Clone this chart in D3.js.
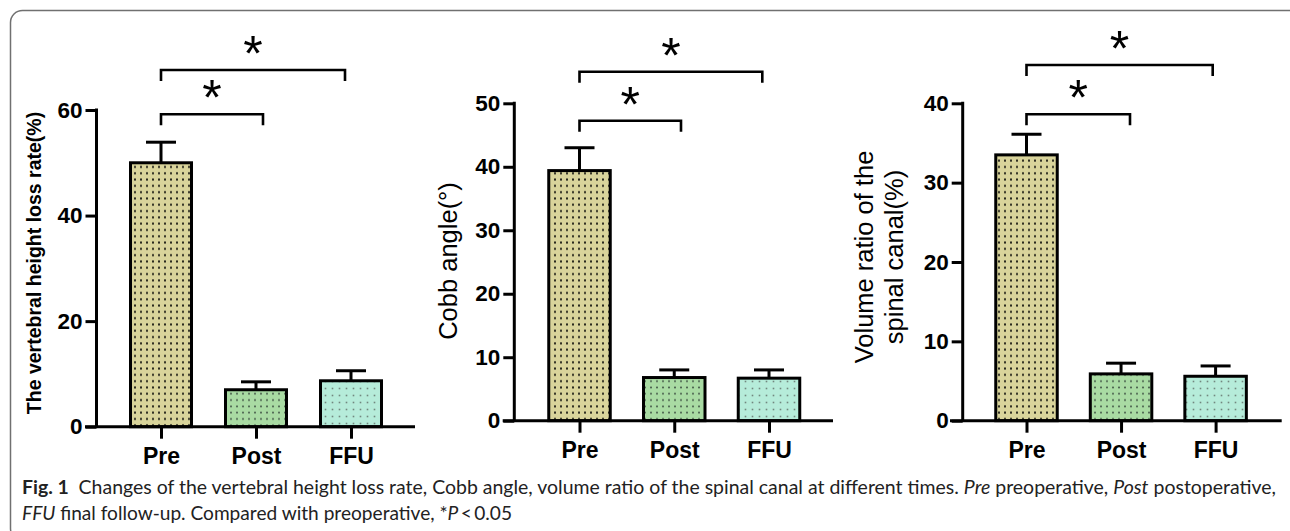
<!DOCTYPE html>
<html lang="en">
<head>
<meta charset="UTF-8">
<title>Fig. 1</title>
<script src="https://d3js.org/d3.v7.min.js"></script>
<style>
  body { margin: 0; background: #fff; }
  svg { display: block; }
</style>
</head>
<body>
<div id="my_dataviz"></div>
<script>

// ---- data ----
var categories = ["Pre", "Post", "FFU"];

var heightLossMean = [50.0, 7.0, 8.7];
var heightLossErr  = [3.9, 1.5, 1.9];
var heightTicks    = [0, 20, 40, 60];

var cobbMean = [39.4, 6.8, 6.7];
var cobbErr  = [3.6, 1.2, 1.3];
var cobbTicks = [0, 10, 20, 30, 40, 50];

var volumeMean = [33.5, 5.9, 5.6];
var volumeErr  = [2.6, 1.35, 1.3];
var volumeTicks = [0, 10, 20, 30, 40];

// significance brackets: Pre vs Post, Pre vs FFU
var comparisons = [["Pre", "Post"], ["Pre", "FFU"]];
var sigLabel = "*";

var fills = {Pre: "#d9d49b", Post: "#a9dba3", FFU: "#b6ecda"};

var svg = d3.select("#my_dataviz")
  .append("svg")
  .attr("width", 1290)
  .attr("height", 531);

svg.append("rect").attr("width", 1290).attr("height", 531).attr("fill", "#fff");

// dotted fill patterns
var defs = svg.append("defs");
function dotPattern(id, bg, w, h, dot, col) {
  var p = defs.append("pattern")
    .attr("id", id)
    .attr("patternUnits", "userSpaceOnUse")
    .attr("width", w).attr("height", h);
  p.append("rect").attr("width", w).attr("height", h).attr("fill", bg);
  p.append("rect").attr("x", w / 2 - dot / 2).attr("y", h / 2 - dot / 2)
    .attr("width", dot).attr("height", dot).attr("fill", col);
}
dotPattern("pat-Pre", fills.Pre, 6, 6.3, 2, "#26261c");
dotPattern("pat-Post", fills.Post, 6, 6.3, 1.6, "#34443a");
dotPattern("pat-FFU", fills.FFU, 7, 7, 1.6, "#72877f");

// outer frame
svg.append("rect")
  .attr("x", 10.5).attr("y", 10.5)
  .attr("width", 1290).attr("height", 530)
  .attr("rx", 12)
  .attr("fill", "none")
  .attr("stroke", "#707070")
  .attr("stroke-width", 1.5);

var panels = [
  {mean: heightLossMean, err: heightLossErr, ticks: heightTicks,
   axisX: 96.5, xFrom: 85, xTo: 415, y0: 426.7, yTop: 110,
   first: 161, last: 351, barW: 61,
   label: ["The vertebral height loss rate(%)"], labelX: [41], labelY: 263, labelSize: 19.5, labelWeight: "bold",
   brackets: [{y: 114.3, end: 263}, {y: 70, end: 345}]},
  {mean: cobbMean, err: cobbErr, ticks: cobbTicks,
   axisX: 514.3, xFrom: 502.7, xTo: 833, y0: 420.7, yTop: 103.3,
   first: 579.5, last: 769, barW: 61.5,
   label: ["Cobb angle(°)"], labelX: [457], labelY: 261, labelSize: 25.5, labelWeight: "normal",
   brackets: [{y: 120.7, end: 681}, {y: 71.7, end: 762.3}]},
  {mean: volumeMean, err: volumeErr, ticks: volumeTicks,
   axisX: 962.7, xFrom: 950, xTo: 1281.7, y0: 420.7, yTop: 103.3,
   first: 1026.5, last: 1215.6, barW: 61.5,
   label: ["Volume ratio of the", "spinal canal(%)"], labelX: [873, 903], labelY: 257, labelSize: 25.5, labelWeight: "normal",
   brackets: [{y: 114.3, end: 1130}, {y: 65, end: 1212.7}]}
];

var axisFont = "'Liberation Sans', Arial, sans-serif";

panels.forEach(function(p) {
  var g = svg.append("g");

  var x = d3.scalePoint().domain(categories).range([p.first, p.last]);
  var y = d3.scaleLinear()
    .domain([0, d3.max(p.ticks)])
    .range([p.y0, p.yTop]);

  var rows = categories.map(function(c, i) {
    return {cat: c, mean: p.mean[i], err: p.err[i]};
  });

  // error bars (drawn first so the bar outline sits over the stem)
  var eb = g.selectAll(".eb").data(rows).enter().append("g");
  eb.append("line")
    .attr("x1", function(d) { return x(d.cat); })
    .attr("x2", function(d) { return x(d.cat); })
    .attr("y1", function(d) { return y(d.mean); })
    .attr("y2", function(d) { return y(d.mean + d.err); })
    .attr("stroke", "#000").attr("stroke-width", 3);
  eb.append("line")
    .attr("x1", function(d) { return x(d.cat) - 15; })
    .attr("x2", function(d) { return x(d.cat) + 15; })
    .attr("y1", function(d) { return y(d.mean + d.err); })
    .attr("y2", function(d) { return y(d.mean + d.err); })
    .attr("stroke", "#000").attr("stroke-width", 3);

  // bars
  g.selectAll(".bar").data(rows).enter().append("rect")
    .attr("x", function(d) { return x(d.cat) - p.barW / 2; })
    .attr("y", function(d) { return y(d.mean); })
    .attr("width", p.barW)
    .attr("height", function(d) { return y(0) - y(d.mean); })
    .attr("fill", function(d) { return "url(#pat-" + d.cat + ")"; })
    .attr("stroke", "#000")
    .attr("stroke-width", 3);

  // y axis
  var ya = g.append("g")
    .attr("transform", "translate(" + p.axisX + ",0)")
    .call(d3.axisLeft(y).tickValues(p.ticks).tickSize(11).tickSizeOuter(0).tickPadding(3));
  ya.select(".domain").attr("stroke-width", 3).attr("d", "M0," + y(0) + "V" + (y(d3.max(p.ticks)) - 1.5));
  ya.selectAll(".tick line").attr("stroke-width", 3);
  ya.selectAll(".tick text")
    .style("font-family", axisFont).style("font-size", "22.5px").style("font-weight", "bold")
    .attr("fill", "#000");

  // x axis
  g.append("line")
    .attr("x1", p.xFrom).attr("x2", p.xTo)
    .attr("y1", y(0)).attr("y2", y(0))
    .attr("stroke", "#000").attr("stroke-width", 3);
  var xa = g.append("g")
    .attr("transform", "translate(0," + y(0) + ")")
    .call(d3.axisBottom(x).tickSize(12).tickSizeOuter(0).tickPadding(9));
  xa.select(".domain").remove();
  xa.selectAll(".tick line").attr("stroke-width", 3);
  xa.selectAll(".tick text")
    .style("font-family", axisFont).style("font-size", "23px").style("font-weight", "bold")
    .attr("fill", "#000");

  // y label
  p.label.forEach(function(txt, k) {
    g.append("text")
      .attr("transform", "translate(" + p.labelX[k] + "," + p.labelY + ") rotate(-90)")
      .attr("text-anchor", "middle")
      .style("font-family", axisFont)
      .style("font-size", p.labelSize + "px")
      .style("font-weight", p.labelWeight)
      .text(txt);
  });

  // significance brackets
  comparisons.forEach(function(cmp, k) {
    var b = p.brackets[k];
    var x1 = x(cmp[0]), x2 = b.end;
    g.append("path")
      .attr("d", "M" + x1 + "," + (b.y + 11) + "V" + b.y + "H" + x2 + "V" + (b.y + 11))
      .attr("fill", "none")
      .attr("stroke", "#000")
      .attr("stroke-width", 2.6);
    g.append("text")
      .attr("x", (x1 + x2) / 2)
      .attr("y", b.y - 28 + 29)
      .attr("text-anchor", "middle")
      .style("font-family", axisFont)
      .style("font-size", "50px")
      .style("font-weight", "normal")
      .text(sigLabel);
  });
});

// caption
var capFont = "Lato, 'Open Sans', sans-serif";
var cap1 = svg.append("text")
  .attr("x", 22).attr("y", 494)
  .attr("textLength", 1254)
  .attr("lengthAdjust", "spacingAndGlyphs")
  .style("font-family", capFont).style("font-size", "19px").attr("fill", "#222");
cap1.append("tspan").style("font-weight", "bold").text("Fig. 1");
cap1.append("tspan").text("\u2002Changes of the vertebral height loss rate, Cobb angle, volume ratio of the spinal canal at different times. ");
cap1.append("tspan").style("font-style", "italic").text("Pre");
cap1.append("tspan").text(" preoperative, ");
cap1.append("tspan").style("font-style", "italic").text("Post");
cap1.append("tspan").text(" postoperative,");

var cap2 = svg.append("text")
  .attr("x", 22).attr("y", 520)
  .attr("textLength", 490)
  .attr("lengthAdjust", "spacingAndGlyphs")
  .style("font-family", capFont).style("font-size", "19px").attr("fill", "#222");
cap2.append("tspan").style("font-style", "italic").text("FFU");
cap2.append("tspan").text(" final follow-up. Compared with preoperative, *");
cap2.append("tspan").style("font-style", "italic").text("P");
cap2.append("tspan").text("\u2009<\u20090.05");

</script>
</body>
</html>
